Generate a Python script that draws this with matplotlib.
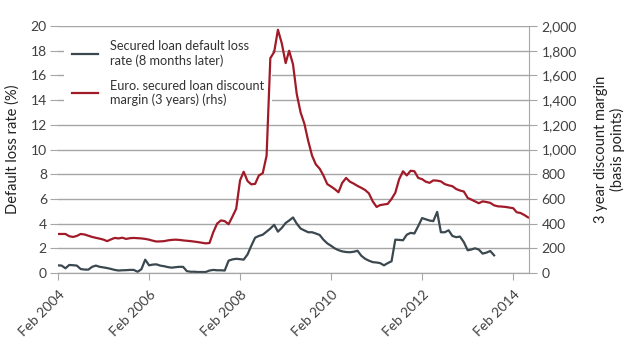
import numpy as np
import pandas as pd
import matplotlib
matplotlib.use('Agg')
import matplotlib.pyplot as plt
from matplotlib.ticker import FuncFormatter

# monthly data starting Feb 2004
loss_rate = [0.62, 0.6, 0.38, 0.65, 0.63, 0.6, 0.32, 0.28, 0.27, 0.5,
             0.6, 0.5, 0.45, 0.4, 0.33, 0.25, 0.2, 0.22, 0.23, 0.25,
             0.25, 0.1, 0.3, 1.08, 0.62, 0.68, 0.7, 0.6, 0.55, 0.48,
             0.43, 0.47, 0.5, 0.5, 0.15, 0.1, 0.1, 0.08, 0.08, 0.08,
             0.2, 0.25, 0.22, 0.22, 0.2, 1.0, 1.1, 1.15, 1.12, 1.08,
             1.5, 2.2, 2.86, 3.0, 3.1, 3.35, 3.6, 3.9, 3.35, 3.65,
             4.05, 4.25, 4.5, 4.0, 3.6, 3.45, 3.3, 3.3, 3.2, 3.08,
             2.7, 2.4, 2.2, 2.0, 1.85, 1.75, 1.7, 1.68, 1.72, 1.8,
             1.4, 1.15, 1.0, 0.88, 0.85, 0.8, 0.62, 0.8, 0.95, 2.7,
             2.68, 2.65, 3.1, 3.25, 3.2, 3.8, 4.45, 4.35, 4.25, 4.2,
             4.95, 3.3, 3.3, 3.46, 3.0, 2.9, 2.95, 2.5, 1.84, 1.9,
             2.0, 1.9, 1.57, 1.65, 1.78, 1.43]

margin = [316, 316, 316, 298, 292, 300, 316, 312, 302, 292,
          285, 278, 270, 258, 272, 284, 280, 286, 276, 282,
          284, 282, 280, 276, 270, 262, 255, 256, 258, 264,
          268, 270, 268, 264, 261, 258, 254, 250, 245, 240,
          243, 330, 400, 426, 420, 395, 455, 520, 750, 820,
          745, 718, 722, 790, 808, 950, 1740, 1790, 1970, 1860,
          1700, 1800, 1690, 1450, 1300, 1210, 1070, 950, 880, 845,
          790, 720, 700, 680, 654, 730, 770, 740, 724, 705,
          690, 672, 645, 580, 535, 550, 555, 560, 600, 650,
          760, 824, 790, 828, 824, 770, 760, 740, 730, 750,
          748, 742, 720, 710, 703, 680, 668, 660, 608, 595,
          580, 565, 580, 575, 568, 548, 540, 538, 535, 530,
          525, 492, 486, 470, 450]

tick_years = [2004, 2006, 2008, 2010, 2012, 2014]

loss_dates = pd.date_range('2004-02-01', periods=len(loss_rate), freq='MS')
margin_dates = pd.date_range('2004-02-01', periods=len(margin), freq='MS')

plt.rcParams['font.family'] = ['Lato', 'DejaVu Sans']
grey = '#3b4850'
red = '#a11a28'
gridc = '#a6a6a6'
txt = '#404040'

fig = plt.figure(figsize=(6.25, 3.57), dpi=100)
ax = fig.add_axes([0.0928, 0.2353, 0.7536, 0.6917])
ax2 = ax.twinx()

l1, = ax.plot(loss_dates, loss_rate, color=grey, lw=1.6,
              label='Secured loan default loss\nrate (8 months later)')
l2, = ax2.plot(margin_dates, margin, color=red, lw=1.6,
               label='Euro. secured loan discount\nmargin (3 years) (rhs)')

ax.set_ylim(0, 20)
ax.set_yticks(np.arange(0, 21, 2))
ax2.set_ylim(0, 2000)
ax2.set_yticks(np.arange(0, 2001, 200))
ax2.yaxis.set_major_formatter(FuncFormatter(lambda v, p: f'{int(v):,}'))

ax.set_xlim(pd.Timestamp('2004-02-01'), pd.Timestamp('2014-06-08'))
ticks = [pd.Timestamp(f'{y}-02-01') for y in tick_years]
ax.set_xticks(ticks)
ax.set_xticklabels([f'Feb {y}' for y in tick_years], rotation=45,
                   ha='right', rotation_mode='anchor')

ax.grid(axis='y', color=gridc, lw=1.0)
ax.set_axisbelow(True)
for a in (ax, ax2):
    for s in ('top', 'left'):
        a.spines[s].set_visible(False)
    a.spines['bottom'].set_color(gridc)
    a.spines['right'].set_color(gridc)
ax2.spines['right'].set_visible(True)
ax.spines['right'].set_visible(False)

ax.tick_params(axis='y', length=6, color=gridc, labelsize=10, labelcolor=txt, pad=2)
ax2.tick_params(axis='y', length=6, color=gridc, labelsize=10, labelcolor=txt, pad=3)
ax.tick_params(axis='x', length=5, color=gridc, labelsize=10, labelcolor=txt, pad=6)

ax.set_ylabel('Default loss rate (%)', fontsize=10.5, color='#222222', labelpad=8)
ax2.set_ylabel('3 year discount margin\n(basis points)', fontsize=10.5,
               color='#222222', labelpad=12)

# legend on the left axes so the red line stays drawn over its white box
leg = ax.legend(handles=[l1, l2], loc='upper left', bbox_to_anchor=(0.0, 1.0),
                frameon=True, facecolor='white', edgecolor='none', framealpha=1,
                fontsize=9.2, handlelength=2.0, handletextpad=1.0,
                labelspacing=1.0, borderpad=0.6, borderaxespad=0.5)
for t in leg.get_texts():
    t.set_color('#333333')

fig.savefig('out.png', dpi=100)
